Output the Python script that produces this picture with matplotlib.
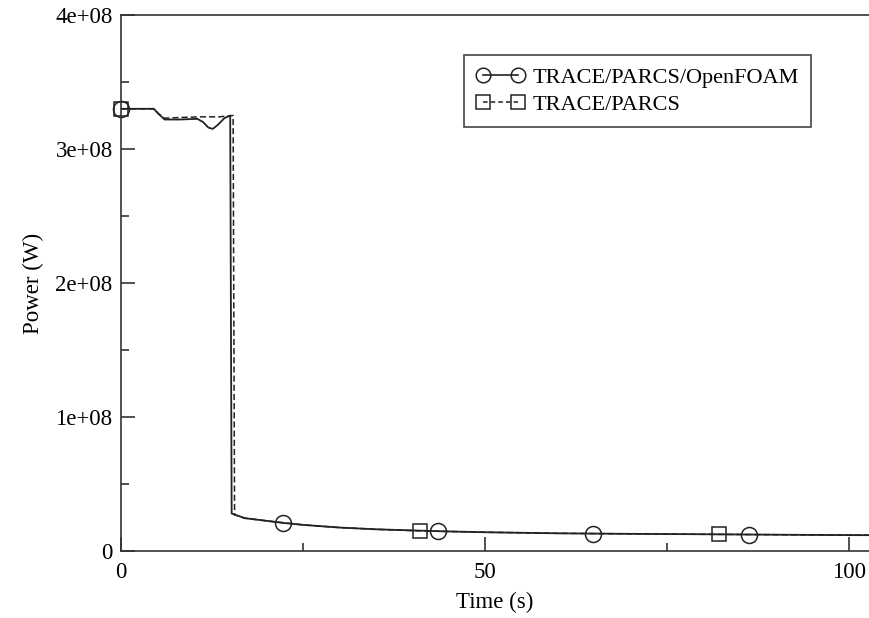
import matplotlib
matplotlib.use("Agg")
import matplotlib.pyplot as plt
from matplotlib.ticker import MultipleLocator

plt.rcParams['font.family'] = ['Liberation Serif', 'DejaVu Serif']

# TRACE/PARCS/OpenFOAM (solid line)
t_foam = [0, 4.5, 5.2, 6.0, 8.0, 10.5, 11.3, 12.0, 12.6, 13.3, 14.2, 15.0, 15.2,
          17, 20, 22.2, 25, 30, 35, 43.5, 50, 60, 64.8, 70, 80, 86.3, 95, 103]
p_foam = [3.30e8, 3.30e8, 3.26e8, 3.22e8, 3.22e8, 3.225e8, 3.20e8, 3.16e8, 3.15e8,
          3.18e8, 3.23e8, 3.25e8, 0.28e8,
          0.245e8, 0.225e8, 0.21e8, 0.195e8, 0.175e8, 0.162e8, 0.148e8, 0.14e8,
          0.132e8, 0.13e8, 0.128e8, 0.125e8, 0.123e8, 0.12e8, 0.118e8]

# TRACE/PARCS (dashed line)
t_parcs = [0, 4.5, 5.2, 6.0, 8.0, 11.0, 13.5, 15.4, 15.6,
           17, 20, 25, 30, 35, 41.1, 50, 60, 70, 82.1, 95, 103]
p_parcs = [3.30e8, 3.30e8, 3.26e8, 3.23e8, 3.235e8, 3.24e8, 3.24e8, 3.25e8, 0.27e8,
           0.245e8, 0.225e8, 0.195e8, 0.175e8, 0.162e8, 0.15e8, 0.14e8,
           0.132e8, 0.128e8, 0.124e8, 0.12e8, 0.118e8]

# marker positions
mk_foam_t = [0, 22.2, 43.5, 64.8, 86.3]
mk_foam_p = [3.30e8, 0.21e8, 0.148e8, 0.13e8, 0.123e8]
mk_parcs_t = [0, 41.1, 82.1]
mk_parcs_p = [3.30e8, 0.15e8, 0.124e8]

fig = plt.figure(figsize=(8.69, 6.18), dpi=100)
ax = fig.add_axes([121 / 869, 1 - 551 / 618, 1 - 121 / 869, (551 - 15) / 618])

col = '#222222'
ax.plot(t_foam, p_foam, '-', color=col, lw=1.3)
ax.plot(t_parcs, p_parcs, '--', color=col, lw=1.1, dashes=(4, 2))
ax.plot(mk_foam_t, mk_foam_p, 'o', color=col, mfc='none', ms=11.5, mew=1.1, clip_on=False)
ax.plot(mk_parcs_t, mk_parcs_p, 's', color=col, mfc='none', ms=10.5, mew=1.1, clip_on=False)

# legend entries
h1, = ax.plot([], [], '-o', color=col, mfc='none', ms=10.5, mew=1.1, lw=1.2)
h2, = ax.plot([], [], '--s', color=col, mfc='none', ms=9.5, mew=1.1, lw=1.1, dashes=(3, 2))
leg = ax.legend([h1, h2], ['TRACE/PARCS/OpenFOAM', 'TRACE/PARCS'],
                loc='upper left', bbox_to_anchor=(464 / 869, 1 - 55 / 618),
                bbox_transform=fig.transFigure, borderaxespad=0, fontsize=16,
                numpoints=2, handlelength=2.2, handletextpad=0.35, labelspacing=0.3,
                borderpad=0.55, fancybox=False, framealpha=1)
leg.get_frame().set_edgecolor('#444444')
leg.get_frame().set_linewidth(1.2)

ax.set_xlim(0, 102.75)
ax.set_ylim(0, 4e8)
ax.xaxis.set_major_locator(MultipleLocator(50))
ax.xaxis.set_minor_locator(MultipleLocator(25))
ax.yaxis.set_major_locator(MultipleLocator(1e8))
ax.yaxis.set_minor_locator(MultipleLocator(0.5e8))
ax.set_yticks([0, 1e8, 2e8, 3e8, 4e8])
ax.set_yticklabels(['0', '1e+08', '2e+08', '3e+08', '4e+08'])
ax.tick_params(which='both', direction='in', labelsize=16.5, color='#333333', width=1.2)
ax.tick_params(which='major', length=10)
ax.tick_params(which='minor', length=6)
ax.tick_params(axis='x', which='major', pad=8)
ax.tick_params(axis='y', which='major', pad=6)
ax.spines['right'].set_visible(False)
for s in ['left', 'bottom', 'top']:
    ax.spines[s].set_linewidth(1.2)
    ax.spines[s].set_color('#333333')

ax.set_xlabel('Time (s)', fontsize=16.5, labelpad=6)
ax.set_ylabel('Power (W)', fontsize=16.5, labelpad=8)

fig.savefig('out.png', dpi=100)
